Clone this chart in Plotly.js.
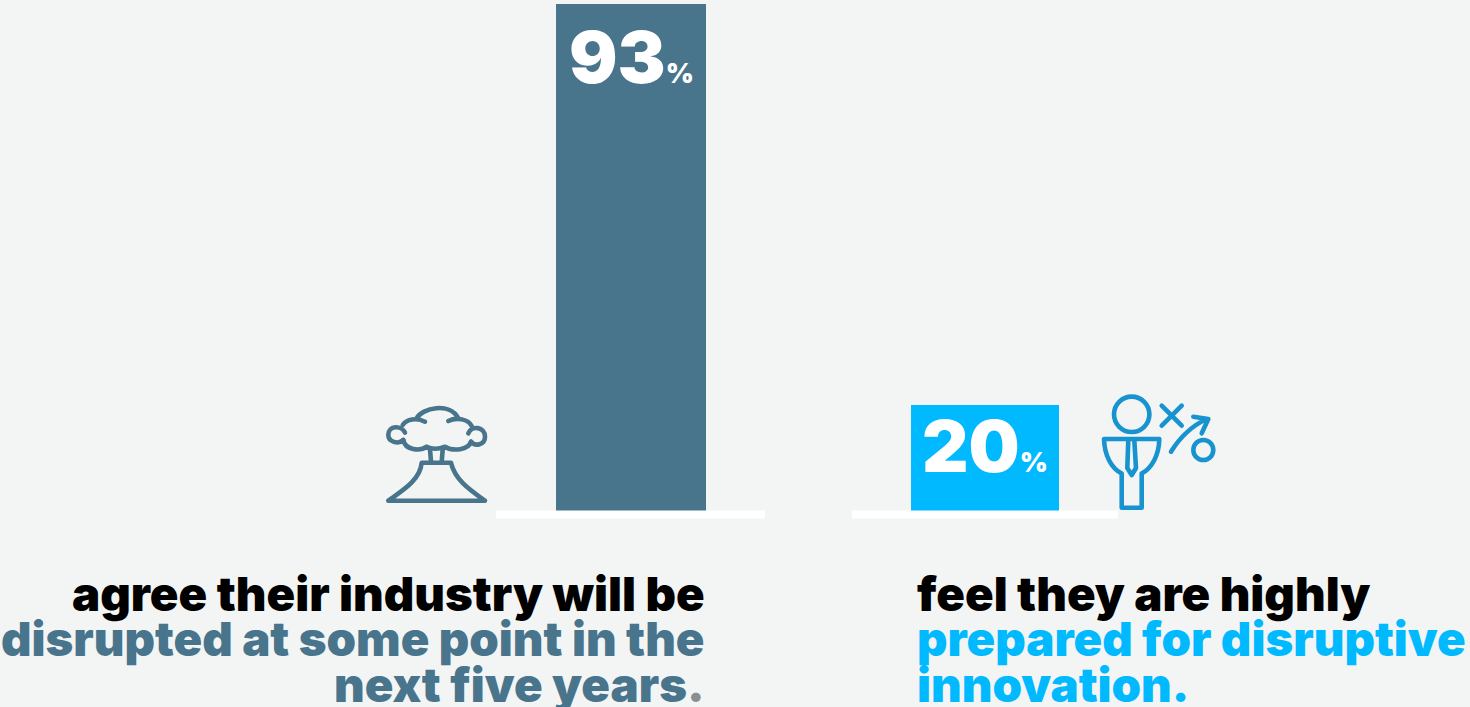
<!DOCTYPE html>
<html>
<head>
<meta charset="utf-8">
<script src="https://cdn.plot.ly/plotly-3.0.1.min.js"></script>
<style>
html,body{margin:0;padding:0;background:#f3f5f4;overflow:hidden}
#chart{width:1470px;height:707px}
.shapelayer path{stroke-linejoin:round;stroke-linecap:round}
</style>
</head>
<body>
<div id="chart"></div>
<script>
// Survey results
const categories = ["Industry will be disrupted", "Highly prepared"];
const shares = [93, 20];
const barWidths = [0.4237, 0.418];
const barColors = ["#48748c", "#00b9ff"];
const iconColors = ["#48748c", "#1793d0"];
const labelDrops = [7, -5];
const labelFont = "Inter, 'Noto Sans', sans-serif";

// Circle built from four cubic arcs, since shape paths have no arc command
const circle = (cx, cy, r) => {
  const k = r * 0.5523;
  return `M ${cx - r} ${cy} C ${cx - r} ${cy - k} ${cx - k} ${cy - r} ${cx} ${cy - r} ` +
         `C ${cx + k} ${cy - r} ${cx + r} ${cy - k} ${cx + r} ${cy} ` +
         `C ${cx + r} ${cy + k} ${cx + k} ${cy + r} ${cx} ${cy + r} ` +
         `C ${cx - k} ${cy + r} ${cx - r} ${cy + k} ${cx - r} ${cy} Z`;
};

// Stroke outlines for the two pictograms, in page pixels
const volcanoPaths = [
  "M 416.7 418.3 C 421.7 408 450 401.7 458.3 418.3",
  "M 425 421.7 C 416.7 417.3 406.7 419.3 402.7 425",
  "M 448.3 421 C 456.7 416.7 468.3 419.3 471.7 426",
  "M 405 432.7 C 401.7 425 388.3 425 388.3 435 C 388.3 441.7 398.3 445 403.3 440",
  "M 403.3 440 C 405 450 420 451.7 426.7 446.7 C 431.7 449.3 438.3 449.3 445 446.7 C 453.3 451.7 468.3 450 471 441.7",
  "M 468.3 433.3 C 471.7 425 485 426.7 485 436.7 C 485 445 475 446.7 471 441.7",
  "M 430 449.3 L 431 461.7 M 442.7 449.3 L 441.7 461.7",
  "M 421.7 462.7 L 451 462.7 C 455 480 470 490 485 500.7 L 388.3 500.7 C 403.3 490 420 480 421.7 462.7 Z"
];
const strategistPaths = [
  circle(1131.7, 414.3, 17.7),
  "M 1104 439 L 1159.3 439 C 1159 455 1152 468 1141.7 473.5 L 1141.7 507.7 L 1121.7 507.7 L 1121.7 473.5 C 1111 468 1104.5 455 1104 439 Z",
  "M 1128.3 440 L 1127.3 468 L 1131.7 475 L 1136 468 L 1134.3 440",
  "M 1161.7 405.7 L 1181.7 425.7 M 1181.7 405.7 L 1161.7 425.7",
  "M 1171 451.7 C 1178.3 440 1190 426.7 1206.7 419 M 1193.3 416.7 L 1208.3 419 L 1201.7 433.3",
  circle(1203.3, 450, 10)
];

// Caption lines, each right or left aligned to its own column edge
const leftCaption = [
  ["agree their industry will be", "#000000"],
  ["disrupted at some point in the", "#48748c"],
  ["next five years<span style=\"color:#8a8f92\">.</span>", "#48748c"]
];
const rightCaption = [
  ["feel they are highly", "#000000"],
  ["prepared for disruptive", "#00b9ff"],
  ["innovation.", "#00b9ff"]
];
const captionRows = [593, 638, 684];

const pathShape = (d, color) => ({
  type: "path", path: d, xref: "x2", yref: "y2", layer: "above",
  line: {color: color, width: 4.6}, fillcolor: "rgba(0,0,0,0)"
});
const baseLine = (x0, x1) => ({
  type: "rect", xref: "x2", yref: "y2", x0: x0, x1: x1, y0: 510.5, y1: 518.5,
  fillcolor: "#ffffff", line: {width: 0}, layer: "above"
});
const caption = (row, i, x, anchor) => ({
  text: row[0], xref: "x2", yref: "y2", x: x, y: captionRows[i],
  xanchor: anchor, yanchor: "middle", showarrow: false,
  font: {family: labelFont, size: 47.3, weight: 900, color: row[1]}
});
const valueLabel = (v, i) => ({
  text: `<span style="font-size:72px;font-weight:900">${v}</span><span style="font-size:27px;font-weight:900">%</span>`,
  xref: "x", yref: "y", x: categories[i], y: v, yshift: -labelDrops[i],
  xanchor: "center", yanchor: "top", showarrow: false,
  font: {family: labelFont, size: 72, color: "#ffffff"}
});

const data = [{
  type: "bar",
  x: categories,
  y: shares,
  width: barWidths,
  marker: {color: barColors, line: {width: 0}},
  hoverinfo: "x+y"
}];

const layout = {
  width: 1470,
  height: 707,
  margin: {l: 0, r: 0, t: 0, b: 0},
  paper_bgcolor: "#f3f5f4",
  plot_bgcolor: "#f3f5f4",
  showlegend: false,
  xaxis: {visible: false, type: "category", range: [-1.7825, 2.37], fixedrange: true},
  yaxis: {visible: false, range: [-34.98, 93.73], fixedrange: true},
  xaxis2: {visible: false, overlaying: "x", range: [0, 1470], fixedrange: true},
  yaxis2: {visible: false, overlaying: "y", range: [707, 0], fixedrange: true},
  shapes: [
    baseLine(496, 765),
    baseLine(852, 1118),
    ...volcanoPaths.map(d => pathShape(d, iconColors[0])),
    ...strategistPaths.map(d => pathShape(d, iconColors[1]))
  ],
  annotations: [
    ...shares.map(valueLabel),
    ...leftCaption.map((r, i) => caption(r, i, 707, "right")),
    ...rightCaption.map((r, i) => caption(r, i, 915, "left"))
  ]
};

Plotly.newPlot("chart", data, layout, {displayModeBar: false, staticPlot: true});
</script>
</body>
</html>
